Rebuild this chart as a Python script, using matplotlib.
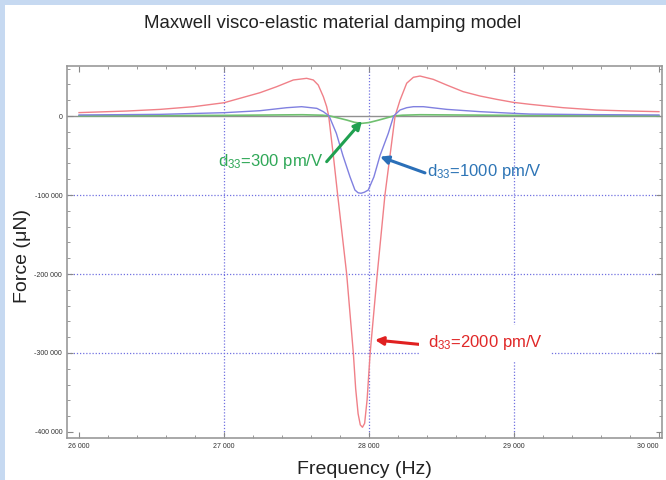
import matplotlib
matplotlib.use("Agg")
import matplotlib.pyplot as plt
from matplotlib.patches import Rectangle
from matplotlib.ticker import FuncFormatter, MultipleLocator, FixedLocator

plt.rcParams['font.family'] = ['Liberation Sans', 'DejaVu Sans']
plt.rcParams['mathtext.default'] = 'regular'

# data
freq_2000 = [26000, 26330, 26560, 26790, 27000, 27133, 27248, 27363, 27478, 27570,
             27616, 27650, 27685, 27708, 27722, 27754, 27784, 27846, 27892, 27908,
             27925, 27940, 27955, 27970, 27987, 28008, 28057, 28110, 28145, 28180,
             28214, 28260, 28306, 28352, 28443, 28536, 28650, 28766, 28880, 28995,
             29110, 29340, 29570, 29800, 30000]
force_2000 = [4300, 6300, 8400, 11800, 16800, 23600, 29500, 37100, 45600, 47700,
              45600, 39200, 24500, 11800, 0, -50000, -100000, -200000, -300000, -345000,
              -377000, -391000, -394000, -389000, -359000, -300000, -200000, -100000, -50000, 0,
              20000, 41500, 49000, 50600, 46400, 39200, 30800, 25300, 21100, 17300,
              14800, 10500, 7600, 6300, 5500]

freq_1000 = [26000, 26560, 27000, 27248, 27432, 27535, 27640, 27685, 27725, 27775,
             27820, 27869, 27903, 27925, 27945, 27968, 27995, 28034, 28076, 28133,
             28170, 28214, 28260, 28306, 28375, 28536, 28766, 28995, 29110, 29500,
             30000]
force_1000 = [1300, 2100, 4200, 6700, 10500, 11800, 9700, 5500, 0, -22000,
              -50000, -77000, -93700, -97200, -97800, -96500, -93700, -77000, -50000, -22000,
              0, 7600, 10500, 11800, 11800, 8400, 5500, 3400, 2500, 1800,
              1300]

freq_300 = [26000, 27000, 27540, 27680, 27731, 27800, 27846, 27900, 27950, 28000,
            28060, 28110, 28168, 28230, 28350, 29000, 30000]
force_300 = [300, 800, 1600, 1000, 0, -3000, -5100, -8000, -9300, -8300,
             -5500, -3000, 0, 1000, 1600, 800, 300]

x_grid = [27000, 28000, 29000]
y_grid = [-100000, -200000, -300000]
x_ticks = [26000, 27000, 28000, 29000, 30000]
y_ticks = [0, -100000, -200000, -300000, -400000]

fig = plt.figure(figsize=(6.66, 4.8), dpi=100)
fig.patch.set_facecolor('#c6d9f1')
fig.patches.append(Rectangle((5 / 666, 0), 1, 1 - 5 / 480, transform=fig.transFigure,
                             facecolor='white', edgecolor='none', zorder=-5))

ax = fig.add_axes([67 / 666, 1 - 438 / 480, 595 / 666, 372 / 480])
ax.set_facecolor('white')

for x in x_grid:
    ax.axvline(x, color='#7070e0', lw=0.9, ls=(0, (1, 1.5)), zorder=1)
for y in y_grid:
    ax.axhline(y, color='#7070e0', lw=0.9, ls=(0, (1, 1.5)), zorder=1)
ax.axhline(0, color='#909090', lw=1.0, zorder=1)

ax.plot(freq_2000, force_2000, color='#f08088', lw=1.0, zorder=3)
ax.plot(freq_1000, force_1000, color='#8080e0', lw=1.0, zorder=3)
ax.plot(freq_300, force_300, color='#70c070', lw=1.2, zorder=2)

ax.set_xlim(25917, 30021)
ax.set_ylim(-407600, 63300)

ax.xaxis.set_major_locator(FixedLocator(x_ticks))
ax.yaxis.set_major_locator(FixedLocator(y_ticks))
ax.xaxis.set_minor_locator(MultipleLocator(200))
ax.yaxis.set_minor_locator(MultipleLocator(20000))
fmt = FuncFormatter(lambda v, p: f"{int(v):,}".replace(",", " "))
ax.xaxis.set_major_formatter(fmt)
ax.yaxis.set_major_formatter(fmt)
ax.tick_params(which='both', direction='in', colors='#888888', labelcolor='#333333',
               labelsize=5, top=True, right=True)
ax.tick_params(which='major', length=4, width=0.8)
ax.tick_params(which='minor', length=2, width=0.6)
for s in ax.spines.values():
    s.set_color('#999999')
    s.set_linewidth(1.2)
ax.get_xticklabels()[-1].set_ha('right')

ax.set_xlabel('Frequency (Hz)', fontsize=14, color='#222222', labelpad=8)
ax.set_ylabel('Force (\u03bcN)', fontsize=14, color='#222222')
ax.yaxis.set_label_coords(-0.06, 0.49)
fig.text(333 / 666, 1 - 23 / 480, 'Maxwell visco-elastic material damping model',
         ha='center', va='center', fontsize=13.4, color='#222222')

arrow = dict(arrowstyle='-|>', lw=2.2, mutation_scale=12, shrinkA=0, shrinkB=0)
ax.annotate('', xy=(27952, -6300), xytext=(27708, -57800),
            arrowprops=dict(arrow, color='#20a050'), zorder=5)
ax.text(27690, -57800, 'd$_{33}$=300 pm/V', color='#30a858', fontsize=12,
        ha='right', va='center', zorder=5)
ax.annotate('', xy=(28076, -51500), xytext=(28386, -72000),
            arrowprops=dict(arrow, color='#2a6fb8'), zorder=5)
ax.text(28400, -70000, 'd$_{33}$=1000 pm/V', color='#2e75b6', fontsize=12,
        ha='left', va='center', zorder=5)
ax.annotate('', xy=(28041, -283500), xytext=(28397, -290000),
            arrowprops=dict(arrow, color='#e02020'), zorder=5)
ax.text(28405, -287000, 'd$_{33}$=2000 pm/V', color='#e02828', fontsize=12,
        ha='left', va='center', zorder=5,
        bbox=dict(facecolor='white', edgecolor='none', pad=6))

fig.savefig('out.png', dpi=100)
